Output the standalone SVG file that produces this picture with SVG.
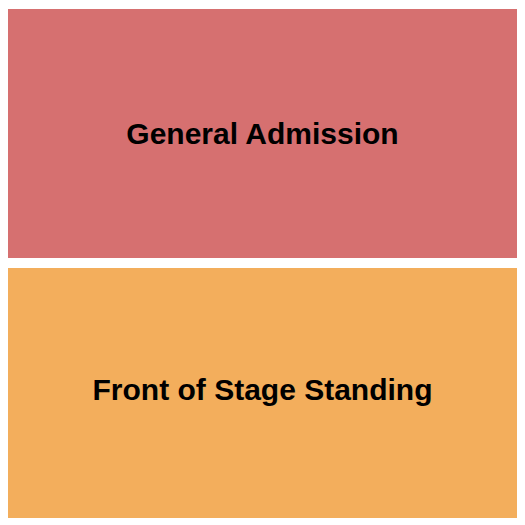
<svg xmlns="http://www.w3.org/2000/svg" width="525" height="525" viewBox="0 0 525 525">
<style>
.lbl{font-family:"Liberation Sans",Arial,sans-serif;font-weight:bold;font-size:30px;fill:#000;text-anchor:middle}
</style>
<rect width="525" height="525" fill="#fff"/>
<g id="general-admission">
<rect x="8" y="9" width="509" height="249" fill="#D67070"/>
<text class="lbl" x="262.5" y="143.5">General Admission</text>
</g>
<g id="front-of-stage">
<rect x="8" y="268" width="509" height="250" fill="#F3AE5C"/>
<text class="lbl" x="262.5" y="399.5">Front of Stage Standing</text>
</g>
<g id="connectors"/>
</svg>
